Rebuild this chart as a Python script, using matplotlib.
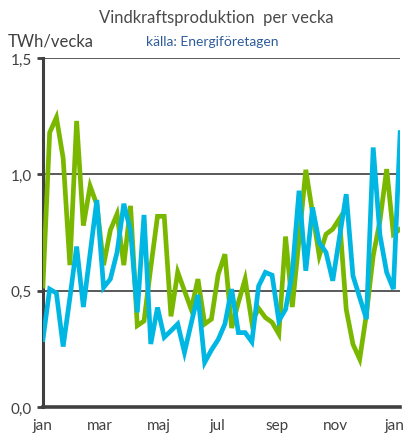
import numpy as np
import matplotlib.pyplot as plt

# veckovärden, TWh/vecka
green = [0.52, 1.18, 1.245, 1.07, 0.61, 1.23, 0.78, 0.95, 0.87, 0.61,
         0.76, 0.83, 0.61, 0.865, 0.35, 0.37, 0.60, 0.82, 0.82, 0.39,
         0.58, 0.50, 0.42, 0.55, 0.357, 0.378, 0.57, 0.657, 0.34, 0.45,
         0.55, 0.364, 0.424, 0.385, 0.364, 0.314, 0.733, 0.43, 0.72, 1.02,
         0.835, 0.65, 0.743, 0.765, 0.81, 0.42, 0.27, 0.206, 0.40, 0.65,
         0.80, 1.023, 0.743, 0.765]
blue = [0.29, 0.507, 0.49, 0.26, 0.47, 0.69, 0.43, 0.66, 0.89, 0.514,
        0.55, 0.665, 0.874, 0.758, 0.407, 0.826, 0.271, 0.428, 0.30, 0.328,
        0.357, 0.235, 0.36, 0.482, 0.192, 0.245, 0.29, 0.357, 0.507, 0.32,
        0.32, 0.28, 0.52, 0.579, 0.567, 0.371, 0.42, 0.58, 0.93, 0.586,
        0.858, 0.707, 0.665, 0.543, 0.73, 0.915, 0.564, 0.471, 0.378, 1.116,
        0.74, 0.579, 0.507, 1.18]
weeks = np.arange(len(green))

month_labels = ['jan', 'mar', 'maj', 'jul', 'sep', 'nov', 'jan']
month_days = [0, 59, 120, 181, 243, 304, 365]
y_ticks = [0.0, 0.5, 1.0, 1.5]
y_labels = ['0,0', '0,5', '1,0', '1,5']

plt.rcParams['font.family'] = ['Lato', 'DejaVu Sans']
txt = '#404040'

fig = plt.figure(figsize=(4.05, 4.35), dpi=100)
ax = fig.add_axes([0.106, 0.062, 0.882, 0.802])

ax.plot(weeks, green, color='#7ab800', lw=3.4, solid_joinstyle='miter', zorder=3)
ax.plot(weeks, blue, color='#00b7e3', lw=3.4, solid_joinstyle='miter', zorder=4)

ax.set_xlim(0, 53)
ax.set_ylim(0, 1.5)
for y in y_ticks[1:]:
    ax.axhline(y, color='#595959', lw=1.4, zorder=1)

ax.set_yticks(y_ticks)
ax.set_yticklabels(y_labels, fontsize=11, color=txt)
ax.tick_params(axis='y', length=4, width=2, color='#404040', pad=4)
ax.set_xticks([d / 7 for d in month_days])
ax.set_xticklabels(month_labels, fontsize=11, color=txt)
ax.tick_params(axis='x', length=0, pad=8)

for s in ['top', 'right']:
    ax.spines[s].set_visible(False)
ax.spines['left'].set_color('#404040')
ax.spines['left'].set_linewidth(2.2)
ax.spines['bottom'].set_color('#404040')
ax.spines['bottom'].set_linewidth(2.6)

fig.text(0.535, 0.958, 'Vindkraftsproduktion  per vecka', ha='center', va='center',
         fontsize=12, color='#4a4a4a')
fig.text(0.02, 0.905, 'TWh/vecka', ha='left', va='center', fontsize=12, color=txt)
fig.text(0.525, 0.903, 'källa: Energiföretagen', ha='center', va='center',
         fontsize=10, color='#2e5c9a')

fig.savefig('out.png', dpi=100)
